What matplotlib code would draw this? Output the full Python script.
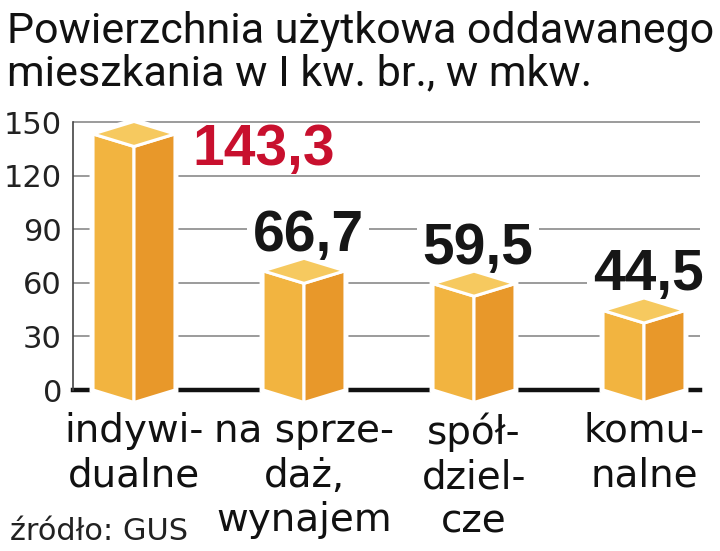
import matplotlib.pyplot as plt
from matplotlib.patches import Polygon

categories = ['indywi-\ndualne', 'na sprze-\ndaż,\nwynajem', 'spół-\ndziel-\ncze', 'komu-\nnalne']
values = [143.3, 66.7, 59.5, 44.5]
value_labels = ['143,3', '66,7', '59,5', '44,5']
yticks = [0, 30, 60, 90, 120, 150]

c_left = '#f2b440'
c_right = '#e8982a'
c_top = '#f6c95f'
c_red = '#c8102e'

fig = plt.figure(figsize=(7.2, 5.51), dpi=100)
ax = fig.add_axes([73/720, 1-390/551, 627/720, 268/551])
ax.set_xlim(-61/170, 566/170)
ax.set_ylim(0, 150)

# grid + axes lines
ax.hlines(yticks[1:], -61/170, 566/170, color='#8a8a8a', lw=1.2, zorder=1, clip_on=False)
ax.axhline(0, color='#111111', lw=3.2, zorder=1.5, clip_on=False)
for s in ['top', 'right', 'bottom']:
    ax.spines[s].set_visible(False)
ax.spines['left'].set_color('#444444')
ax.spines['left'].set_linewidth(1.2)
ax.set_xticks([])
ax.set_yticks(yticks)
ax.set_yticklabels([str(t) for t in yticks], fontsize=22, color='#222222')
ax.tick_params(axis='y', length=0, pad=8)

w = 0.241   # half width of a bar
d = 7.0     # depth of the iso corner in data units
for i, v in enumerate(values):
    c = i
    outline = [(c-w, 0), (c, -d), (c+w, 0), (c+w, v), (c, v+d), (c-w, v)]
    ax.add_patch(Polygon(outline, closed=True, fc='white', ec='white', lw=5,
                         zorder=3, clip_on=False, joinstyle='miter'))
    faces = [
        ([(c-w, 0), (c, -d), (c, v-d), (c-w, v)], c_left),
        ([(c, -d), (c+w, 0), (c+w, v), (c, v-d)], c_right),
        ([(c-w, v), (c, v-d), (c+w, v), (c, v+d)], c_top),
    ]
    for pts, col in faces:
        ax.add_patch(Polygon(pts, closed=True, fc=col, ec='white', lw=2.2,
                             zorder=4, clip_on=False, joinstyle='miter'))
    if i == 0:
        ax.annotate(value_labels[i], xy=(c, v), xytext=(42, -22.5), textcoords='offset points',
                    ha='left', va='baseline', fontsize=41, fontweight='bold',
                    family='Liberation Sans', color=c_red, zorder=2)
    else:
        ax.annotate(value_labels[i], xy=(c, v), xytext=(3, 14.5), textcoords='offset points',
                    ha='center', va='baseline', fontsize=41, fontweight='bold',
                    family='Liberation Sans', color='#161616', zorder=2,
                    bbox=dict(boxstyle='square,pad=0.1', fc='white', ec='none'))
    ax.text(c, -22/268*150, categories[i], ha='center', va='top', fontsize=28,
            color='#111111', linespacing=1.22, clip_on=False)

fig.text(7/720, 1-43/551, 'Powierzchnia użytkowa oddawanego', fontsize=31,
         family='Roboto', color='#111111', va='baseline', ha='left')
fig.text(7/720, 1-85/551, 'mieszkania w I kw. br., w mkw.', fontsize=31,
         family='Roboto', color='#111111', va='baseline', ha='left')
fig.text(10/720, 1-540/551, 'źródło: GUS', fontsize=22, color='#222222',
         va='baseline', ha='left')

fig.savefig('out.png', dpi=100)
